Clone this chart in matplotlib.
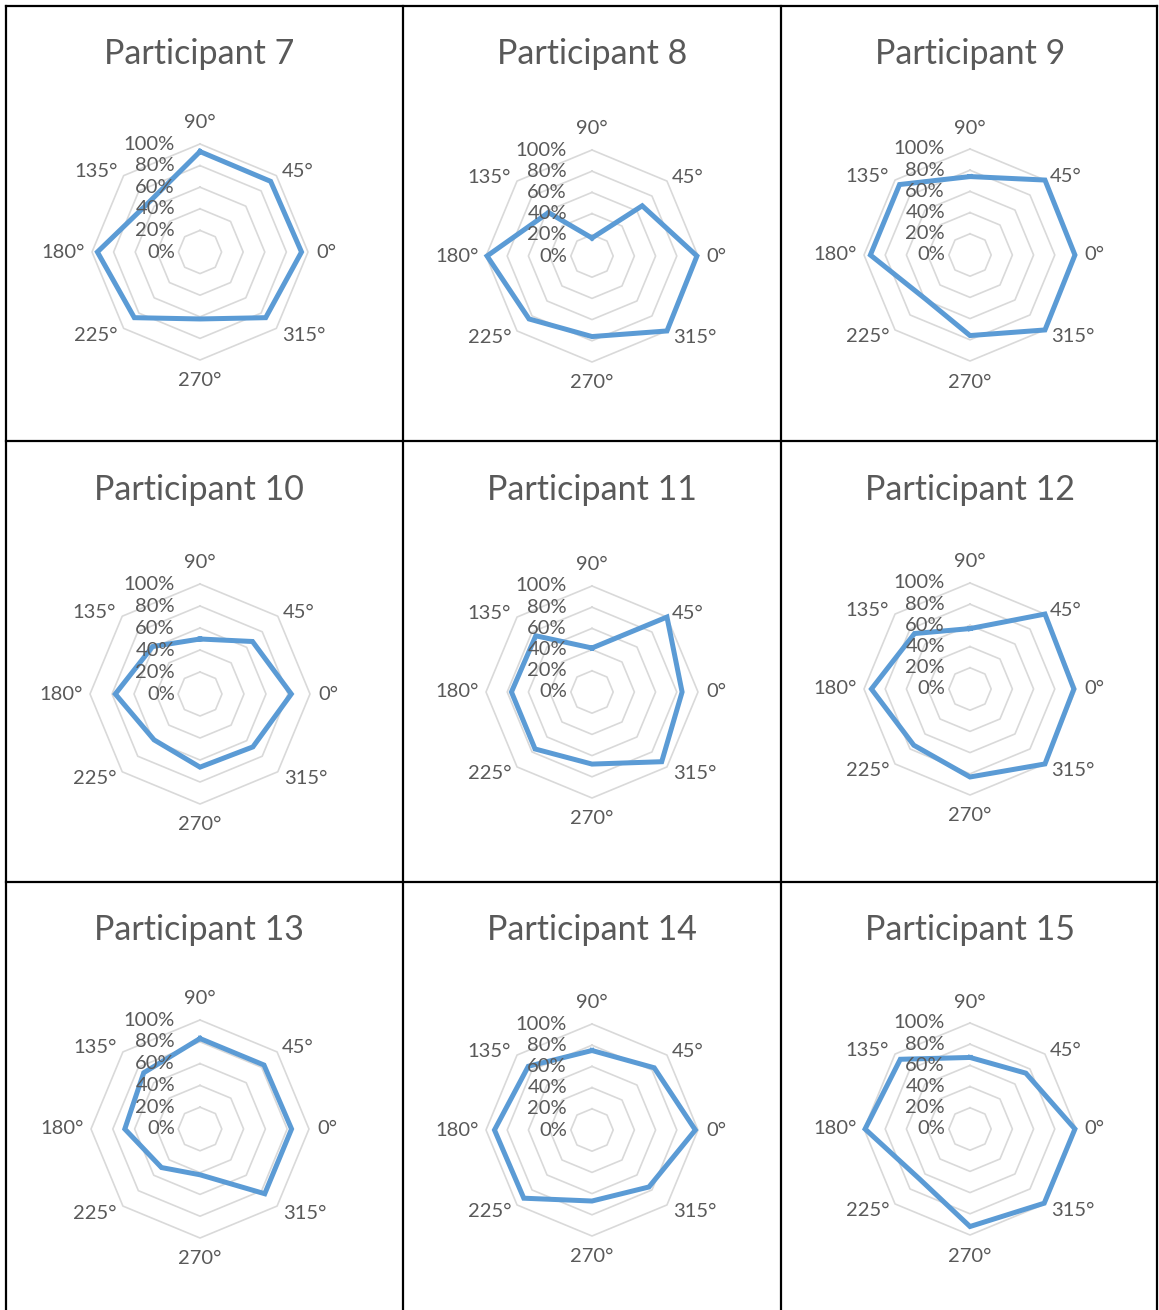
import numpy as np
import matplotlib
matplotlib.use("Agg")
import matplotlib.pyplot as plt
from matplotlib.lines import Line2D

# Direction categories (degrees) and their labels, in drawing order
angles_deg = [90, 45, 0, 315, 270, 225, 180, 135]
angle_labels = ["90°", "45°", "0°", "315°", "270°", "225°", "180°", "135°"]

# Radial scale
ring_values = [0.2, 0.4, 0.6, 0.8, 1.0]
ring_labels = ["0%", "20%", "40%", "60%", "80%", "100%"]

# Per-participant values (fraction of 100%) for each direction
participants = ["Participant 7", "Participant 8", "Participant 9",
                "Participant 10", "Participant 11", "Participant 12",
                "Participant 13", "Participant 14", "Participant 15"]
p7 = [0.93, 0.925, 0.94, 0.86, 0.62, 0.86, 0.95, 0.66]
p8 = [0.17, 0.67, 0.99, 1.00, 0.76, 0.84, 0.99, 0.58]
p9 = [0.74, 1.00, 0.99, 1.00, 0.76, 0.59, 0.94, 0.94]
p10 = [0.50, 0.675, 0.83, 0.68, 0.665, 0.59, 0.77, 0.61]
p11 = [0.415, 1.00, 0.85, 0.93, 0.68, 0.76, 0.76, 0.75]
p12 = [0.57, 1.00, 0.98, 1.00, 0.83, 0.75, 0.93, 0.74]
p13 = [0.83, 0.83, 0.84, 0.84, 0.42, 0.50, 0.69, 0.73]
p14 = [0.75, 0.83, 0.975, 0.76, 0.67, 0.91, 0.92, 0.85]
p15 = [0.675, 0.745, 0.99, 0.99, 0.92, 0.67, 0.99, 0.93]
series = [p7, p8, p9, p10, p11, p12, p13, p14, p15]

W, H = 1159, 1310
DPI = 100
FONT = ["Lato", "DejaVu Sans"]
TEXT_C = "#595959"
GRID_C = "#d9d9d9"
LINE_C = "#5b9bd5"

fig = plt.figure(figsize=(W / DPI, H / DPI), dpi=DPI)
fig.patch.set_facecolor("white")

# Table layout in pixels
col_edges = [6, 403, 781, 1157]
row_edges = [6, 441, 882]
centers = [(200, 252), (592, 256), (970, 255),
           (200, 694), (592, 692), (970, 689),
           (200, 1129), (592, 1130), (970, 1129)]
radii = [108, 106, 106, 110, 106, 106, 109, 106, 106]
title_y = [54, 490, 930]
title_x = [199, 592, 970]

theta = np.deg2rad(angles_deg)
theta_closed = np.append(theta, theta[0])

# Label offsets (pixels) and alignment for each direction
label_layout = {
    90: ((0, 21), "center", "center"),
    45: ((5, 4), "left", "center"),
    0: ((8, 0), "left", "center"),
    315: ((6, -7), "left", "center"),
    270: ((0, -21), "center", "center"),
    225: ((-6, -7), "right", "center"),
    180: ((-7, 0), "right", "center"),
    135: ((-6, 4), "right", "center"),
}

for i, (name, vals) in enumerate(zip(participants, series)):
    cx, cy = centers[i]
    R = radii[i]
    ax = fig.add_axes([(cx - R) / W, 1 - (cy + R) / H, 2 * R / W, 2 * R / H],
                      projection="polar")
    ax.set_theta_zero_location("E")
    ax.set_ylim(0, 1)
    ax.set_axis_off()

    # Octagonal rings
    for rv in ring_values:
        ax.plot(theta_closed, [rv] * len(theta_closed), color=GRID_C, lw=1.2,
                zorder=1, clip_on=False)

    # Data polygon
    v = np.append(vals, vals[0])
    ax.plot(theta_closed, v, color=LINE_C, lw=3.6, zorder=3,
            solid_joinstyle="miter", clip_on=False)

    # Direction labels
    for t, a, lab in zip(theta, angles_deg, angle_labels):
        off, ha, va = label_layout[a]
        ax.annotate(lab, xy=(t, 1.0), xytext=off, textcoords="offset pixels",
                    ha=ha, va=va, fontsize=14.5, color=TEXT_C, family=FONT,
                    annotation_clip=False, zorder=4)

    # Percent scale labels up the vertical axis
    for rv, lab in zip([0.0] + ring_values, ring_labels):
        ax.annotate(lab, xy=(np.pi / 2, rv), xytext=(-25, 0),
                    textcoords="offset pixels", ha="right", va="center",
                    fontsize=14.5, color=TEXT_C, family=FONT,
                    annotation_clip=False, zorder=4)

    # Panel title
    fig.text(title_x[i % 3] / W, 1 - title_y[i // 3] / H, name,
             ha="center", va="center", fontsize=24.5, color=TEXT_C, family=FONT)

# Table borders
for x in col_edges:
    fig.add_artist(Line2D([x / W, x / W], [0, 1 - row_edges[0] / H],
                          color="black", lw=1.6))
for y in row_edges:
    fig.add_artist(Line2D([col_edges[0] / W, col_edges[-1] / W],
                          [1 - y / H, 1 - y / H], color="black", lw=1.6))

fig.savefig("out.png", dpi=DPI, facecolor="white")
